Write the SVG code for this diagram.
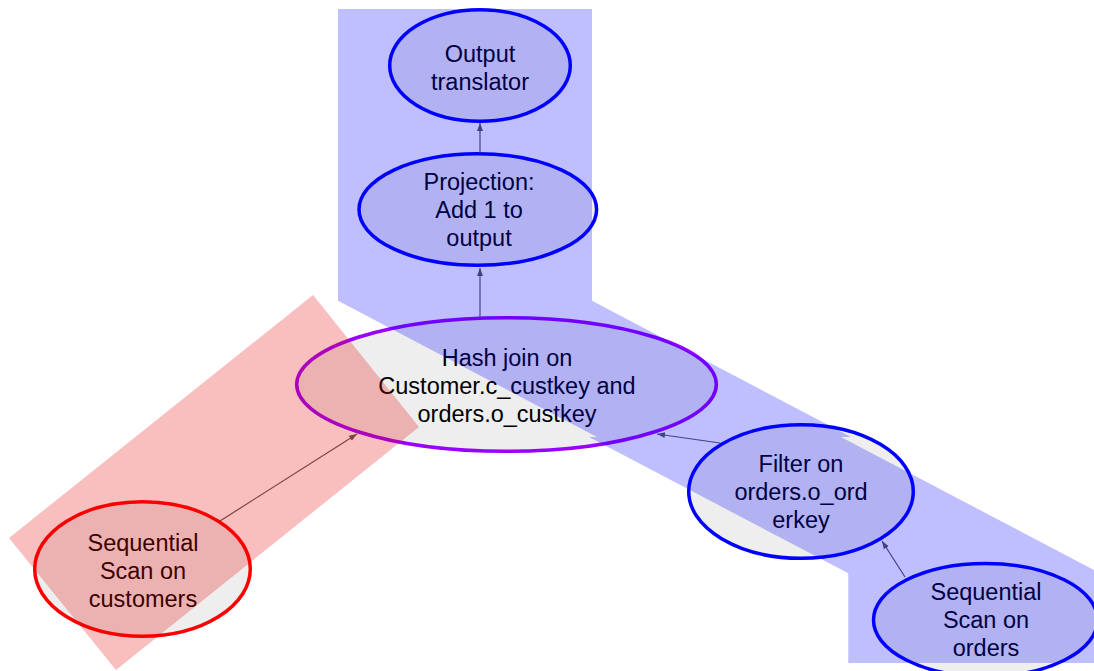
<svg xmlns="http://www.w3.org/2000/svg" width="1094" height="671" viewBox="0 0 1094 671">
  <defs>
    <style>
      .node ellipse { fill: #eeeeee; stroke-width: 3.5; }
      .blue ellipse { stroke: #0000ff; }
      .purple ellipse { stroke: #9900ff; }
      .red ellipse { stroke: #ff0000; }
      .node text { font-family: "Liberation Sans", Arial, sans-serif; font-size: 23.5px; fill: #000000; text-anchor: middle; }
      .edge { stroke: #595959; stroke-width: 1.2; fill: none; marker-end: url(#arrow); }
      .zone-blue { fill: #0000ff; fill-opacity: 0.25; }
      .zone-red { fill: #e80000; fill-opacity: 0.25; }
    </style>
    <marker id="arrow" markerUnits="userSpaceOnUse" markerWidth="8" markerHeight="8" viewBox="0 0 8 8" refX="8" refY="4" orient="auto">
      <path d="M0,1 L8,4 L0,7 Z" fill="#595959"/>
    </marker>
  </defs>

  <rect width="1094" height="671" fill="#ffffff"/>

  <!-- plan operators -->
  <g id="output-translator" class="node blue">
    <ellipse cx="480" cy="65.5" rx="90.3" ry="55.8"/>
    <text x="480" y="62">Output</text>
    <text x="480" y="89.5">translator</text>
  </g>

  <g id="projection" class="node blue">
    <ellipse cx="477.8" cy="209.5" rx="118.8" ry="55.8"/>
    <text x="479" y="190">Projection:</text>
    <text x="479" y="218">Add 1 to</text>
    <text x="479" y="246">output</text>
  </g>

  <g id="hash-join" class="node purple">
    <ellipse cx="506.5" cy="384.5" rx="209.8" ry="66.8"/>
    <text x="507" y="366">Hash join on</text>
    <text x="507" y="394">Customer.c_custkey and</text>
    <text x="507" y="422">orders.o_custkey</text>
  </g>

  <g id="scan-customers" class="node red">
    <ellipse cx="142.5" cy="569" rx="107.8" ry="67.3"/>
    <text x="143" y="551">Sequential</text>
    <text x="143" y="579">Scan on</text>
    <text x="143" y="607">customers</text>
  </g>

  <g id="filter-orders" class="node blue">
    <ellipse cx="801" cy="491.5" rx="112.3" ry="66.8"/>
    <text x="801" y="472">Filter on</text>
    <text x="801" y="500">orders.o_ord</text>
    <text x="801" y="528">erkey</text>
  </g>

  <g id="scan-orders" class="node blue">
    <ellipse cx="985.5" cy="620" rx="112" ry="56.5"/>
    <text x="986" y="600">Sequential</text>
    <text x="986" y="628">Scan on</text>
    <text x="986" y="656">orders</text>
  </g>

  <!-- data flow -->
  <g id="connectors">
    <line class="edge" x1="480" y1="153" x2="480" y2="123"/>
    <line class="edge" x1="480" y1="317" x2="480" y2="268"/>
    <line class="edge" x1="220" y1="521" x2="357" y2="434"/>
    <line class="edge" x1="720" y1="443" x2="657" y2="434"/>
    <line class="edge" x1="905" y1="577" x2="882" y2="541"/>
  </g>

  <!-- pipeline regions -->
  <g id="regions">
    <polygon class="zone-blue" points="338,9 592,9 592,300.7 851,437 841,437 1094,570 1100,573 1100,663 848.3,663 848.3,573.3 589,437 597,437 338,300.7"/>
    <polygon class="zone-red" points="313,295 419,427 116,670 9,538"/>
  </g>
</svg>
